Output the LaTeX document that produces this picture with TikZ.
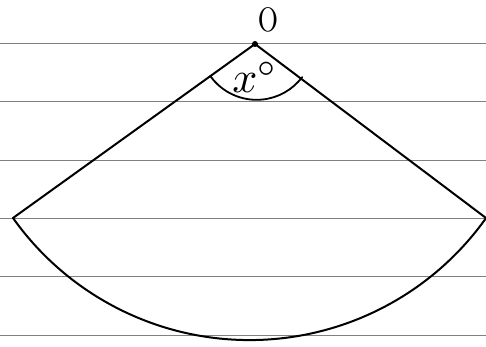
\documentclass[tikz,border=0pt]{standalone}
\usepackage{fontspec}
\begin{document}
\begin{tikzpicture}[x=1pt,y=1pt,
  rule/.style={draw=black!50,line width=1pt},
  edge/.style={draw=black,line width=2pt,line cap=round,line join=round},
  lab/.style={inner sep=0pt}]
\useasboundingbox (0,0) rectangle (486,347);
\fill[white] (0,0) rectangle (486,347);
% ruled paper lines
\foreach \yy in {303,245,186,128,70,11}
  \draw[rule] (0,\yy) -- (486,\yy);
% points
\coordinate (O) at (255,303);
\coordinate (L) at (13,129);
\coordinate (R) at (486,129);
\fill (O) circle (3pt);
% sector
\draw[edge] (L) -- (O) -- (R);
\draw[edge] (L) arc[start angle=215.4,end angle=324.6,radius=290.2];
% angle mark
\draw[edge,line width=1.8pt] (O) ++(215.7:55) arc[start angle=215.7,end angle=323,radius=57];
% labels
\node[lab] (lo) at (268,327) {\scalebox{2.6}[3.4]{O}};
\node[lab] (lx) at (255,270) {\scalebox{4.4}{$x^{\circ}$}};
\end{tikzpicture}
\end{document}
